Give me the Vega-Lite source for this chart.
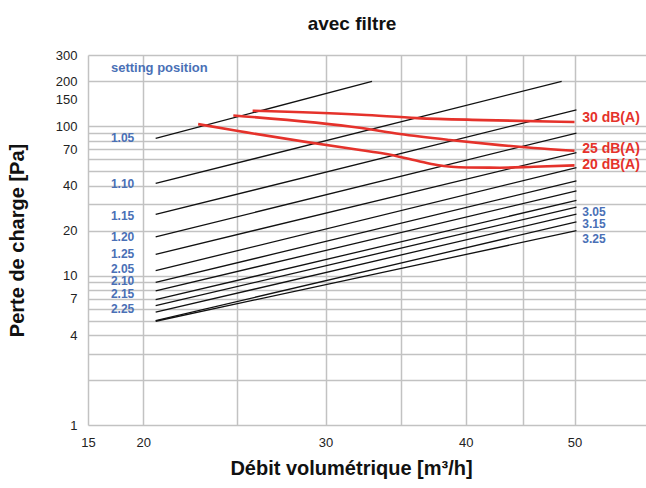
{
  "$schema": "https://vega.github.io/schema/vega-lite/v6.json",
  "autosize": "none",
  "width": 558,
  "height": 370,
  "padding": {"left": 88, "top": 55, "right": 0, "bottom": 63},
  "background": "white",
  "title": {"text": "avec filtre", "fontSize": 19, "fontWeight": "bold", "font": "Liberation Sans", "color": "#111", "anchor": "middle", "dx": -15, "offset": 15},
  "config": {"view": {"stroke": null}, "font": "Liberation Sans"},
  "datasets": {
    "settings": [
      {"series": "s1", "x": 20.6, "y": 82.9}, {"series": "s1", "x": 33.0, "y": 200},
      {"series": "s2", "x": 20.6, "y": 41.4}, {"series": "s2", "x": 48.7, "y": 200},
      {"series": "s3", "x": 20.6, "y": 25.7}, {"series": "s3", "x": 50.2, "y": 128.9},
      {"series": "s4", "x": 20.6, "y": 18.2}, {"series": "s4", "x": 50.2, "y": 90.1},
      {"series": "s5", "x": 20.6, "y": 13.9}, {"series": "s5", "x": 50.2, "y": 66.6},
      {"series": "s6", "x": 20.6, "y": 10.8}, {"series": "s6", "x": 50.2, "y": 52.8},
      {"series": "s7", "x": 20.6, "y": 9.0}, {"series": "s7", "x": 50.2, "y": 43.1},
      {"series": "s8", "x": 20.6, "y": 7.9}, {"series": "s8", "x": 50.2, "y": 37.0},
      {"series": "s9", "x": 20.6, "y": 6.9}, {"series": "s9", "x": 50.2, "y": 31.9},
      {"series": "s10", "x": 20.6, "y": 6.3}, {"series": "s10", "x": 50.2, "y": 28.8},
      {"series": "s11", "x": 20.6, "y": 5.7}, {"series": "s11", "x": 50.2, "y": 25.8},
      {"series": "s12", "x": 20.6, "y": 5.0}, {"series": "s12", "x": 50.2, "y": 22.9},
      {"series": "s13", "x": 20.6, "y": 4.95}, {"series": "s13", "x": 50.2, "y": 20.0}
    ],
    "curves": [
      {"curve": "30", "x": 25.83, "y": 127.0}, {"curve": "30", "x": 32.3, "y": 119.4}, {"curve": "30", "x": 36.2, "y": 113.4}, {"curve": "30", "x": 41.5, "y": 110.0}, {"curve": "30", "x": 50, "y": 106.7},
      {"curve": "25", "x": 24.8, "y": 118.1}, {"curve": "25", "x": 32.3, "y": 97.3}, {"curve": "25", "x": 34.95, "y": 88.7}, {"curve": "25", "x": 38.7, "y": 80.9}, {"curve": "25", "x": 42.9, "y": 74.8}, {"curve": "25", "x": 46.0, "y": 71.5}, {"curve": "25", "x": 50, "y": 68.6},
      {"curve": "20", "x": 22.8, "y": 103.4}, {"curve": "20", "x": 25, "y": 93.3}, {"curve": "20", "x": 32.2, "y": 69.3}, {"curve": "20", "x": 33.8, "y": 65.8}, {"curve": "20", "x": 36.2, "y": 58.8}, {"curve": "20", "x": 37.7, "y": 55.0}, {"curve": "20", "x": 40.1, "y": 53.0}, {"curve": "20", "x": 42.9, "y": 52.8}, {"curve": "20", "x": 46.0, "y": 53.6}, {"curve": "20", "x": 50, "y": 54.7}
    ],
    "labels": [
      {"group": "left", "label": "1.05", "x": 16.9, "y": 82.9},
      {"group": "left", "label": "1.10", "x": 16.9, "y": 41.1},
      {"group": "left", "label": "1.15", "x": 16.9, "y": 24.9},
      {"group": "left", "label": "1.20", "x": 16.9, "y": 18.2},
      {"group": "left", "label": "1.25", "x": 16.9, "y": 14.0},
      {"group": "left", "label": "2.05", "x": 16.9, "y": 11.14},
      {"group": "left", "label": "2.10", "x": 16.9, "y": 9.19},
      {"group": "left", "label": "2.15", "x": 16.9, "y": 7.58},
      {"group": "left", "label": "2.25", "x": 16.9, "y": 6.0},
      {"group": "head", "label": "setting position", "x": 16.9, "y": 247},
      {"group": "right", "label": "3.05", "x": 50.8, "y": 26.8},
      {"group": "right", "label": "3.15", "x": 50.8, "y": 22.1},
      {"group": "right", "label": "3.25", "x": 50.8, "y": 17.7},
      {"group": "db", "label": "30 dB(A)", "x": 50.8, "y": 113.4},
      {"group": "db", "label": "25 dB(A)", "x": 50.8, "y": 70.4},
      {"group": "db", "label": "20 dB(A)", "x": 50.8, "y": 55.3}
    ]
  },
  "encoding": {
    "x": {
      "field": "x", "type": "quantitative",
      "scale": {"type": "log", "domain": [15, 20, 25, 57.9], "range": [0, 55.3, 148.7, 558], "nice": false},
      "axis": {
        "values": [15, 20, 25, 30, 35, 40, 45, 50],
        "labelExpr": "indexof([15,20,30,40,50], datum.value) >= 0 ? datum.label : ''",
        "format": "d",
        "grid": true, "gridColor": "#c2c2c2", "gridWidth": 1.5,
        "domain": false, "ticks": false,
        "labelPadding": 11, "labelFontSize": 13, "labelColor": "#222", "labelFont": "Liberation Sans",
        "labelFlush": false, "labelOverlap": false,
        "title": "Débit volumétrique [m³/h]", "titleFont": "Liberation Sans", "titleFontSize": 20, "titleFontWeight": "bold", "titleColor": "#111",
        "titleX": 263, "titleY": 49, "titleBaseline": "alphabetic", "titleAlign": "center"
      }
    },
    "y": {
      "field": "y", "type": "quantitative",
      "scale": {"type": "log", "domain": [1, 300], "nice": false},
      "axis": {
        "values": [1, 2, 3, 4, 5, 6, 7, 8, 9, 10, 20, 30, 40, 50, 60, 70, 80, 90, 100, 150, 200, 300],
        "labelExpr": "indexof([1,4,7,10,20,40,70,100,150,200,300], datum.value) >= 0 ? datum.label : ''",
        "format": "d",
        "grid": true, "gridColor": "#c2c2c2", "gridWidth": 1.5,
        "gridOpacity": {"condition": {"test": "datum.value == 150", "value": 0}, "value": 1},
        "domain": false, "ticks": false,
        "labelPadding": 11, "labelFontSize": 13, "labelColor": "#222", "labelFont": "Liberation Sans",
        "labelOverlap": false, "labelFlush": false,
        "title": "Perte de charge [Pa]", "titleFont": "Liberation Sans", "titleFontSize": 20, "titleFontWeight": "bold", "titleColor": "#111",
        "titleX": -71, "titleY": 185, "titleBaseline": "middle", "titleAlign": "center", "titleAngle": -90
      }
    }
  },
  "layer": [
    {
      "data": {"name": "settings"},
      "mark": {"type": "line", "color": "#111", "strokeWidth": 1.3},
      "encoding": {"detail": {"field": "series", "type": "nominal"}}
    },
    {
      "data": {"name": "curves"},
      "mark": {"type": "line", "color": "#e5322b", "strokeWidth": 2.6, "interpolate": "monotone"},
      "encoding": {"detail": {"field": "curve", "type": "nominal"}}
    },
    {
      "data": {"name": "labels"},
      "transform": [{"filter": "datum.group == 'left' || datum.group == 'right'"}],
      "mark": {"type": "text", "align": "left", "baseline": "middle", "color": "#4a70b6", "fontWeight": "bold", "fontSize": 12, "font": "Liberation Sans"},
      "encoding": {"text": {"field": "label", "type": "nominal"}}
    },
    {
      "data": {"name": "labels"},
      "transform": [{"filter": "datum.group == 'head'"}],
      "mark": {"type": "text", "align": "left", "baseline": "middle", "color": "#4a70b6", "fontWeight": "bold", "fontSize": 13, "font": "Liberation Sans"},
      "encoding": {"text": {"field": "label", "type": "nominal"}}
    },
    {
      "data": {"name": "labels"},
      "transform": [{"filter": "datum.group == 'db'"}],
      "mark": {"type": "text", "align": "left", "baseline": "middle", "color": "#e5322b", "fontWeight": "bold", "fontSize": 14, "font": "Liberation Sans"},
      "encoding": {"text": {"field": "label", "type": "nominal"}}
    }
  ]
}
